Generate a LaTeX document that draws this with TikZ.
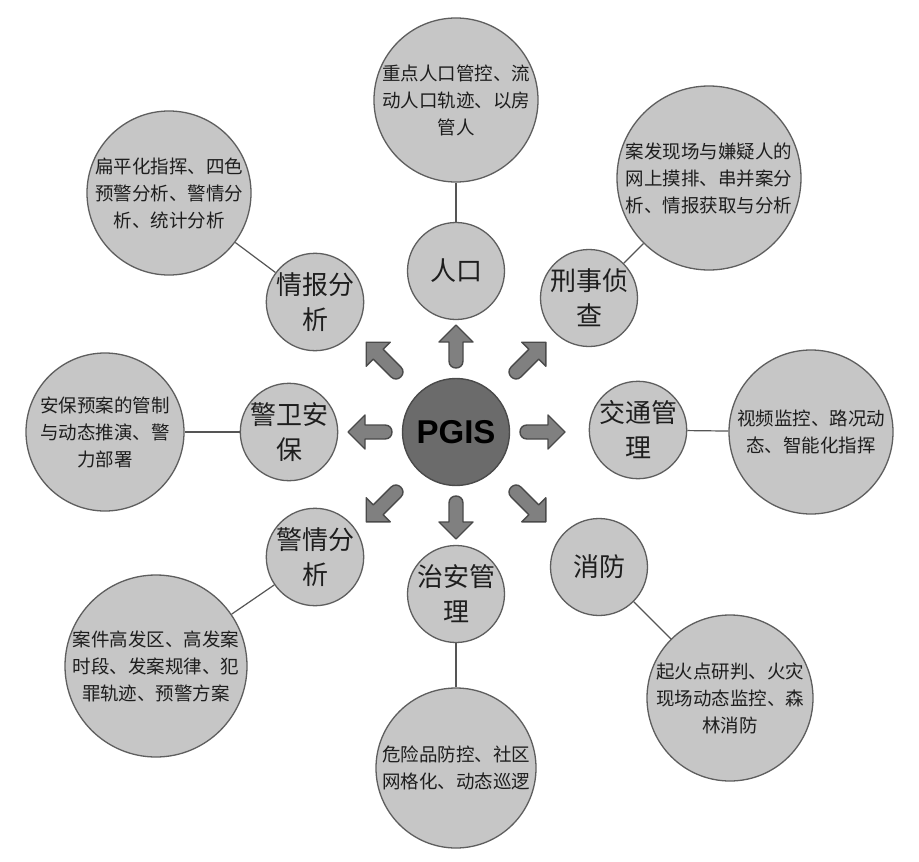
\documentclass[tikz,border=0pt]{standalone}
\usepackage{fontspec}
\setmainfont{Liberation Sans}
\newfontfamily\cjk{Noto Sans CJK SC}
\usetikzlibrary{calc}
\definecolor{cfill}{HTML}{C6C6C6}
\definecolor{cborder}{HTML}{5E5E5E}
\definecolor{pfill}{HTML}{6B6B6B}
\definecolor{afill}{HTML}{808080}
\definecolor{aborder}{HTML}{4A4A4A}
\definecolor{tcol}{HTML}{1E1E1E}
\definecolor{lcol}{HTML}{555555}
\tikzset{
  inner/.style={circle, fill=cfill, draw=cborder, line width=1.3pt, minimum size=97pt, inner sep=0pt, align=center, text=tcol, font=\cjk\fontsize{26}{35}\selectfont},
  outer/.style={circle, fill=cfill, draw=cborder, line width=1.3pt, minimum size=#1, inner sep=0pt, align=center, text=tcol, font=\cjk\fontsize{18.5}{27}\selectfont},
  link/.style={draw=lcol, line width=1.2pt},
  arrowsty/.style={fill=afill, draw=aborder, line width=1.4pt, line join=round},
  pics/barrow/.style={code={
    \draw[arrowsty] (0,7) -- ({#1-17},7) -- ({#1-17},17) -- (#1,0) -- ({#1-17},-17) -- ({#1-17},-7) -- (0,-7) .. controls (-9.3,-7) and (-9.3,7) .. (0,7) -- cycle;
  }}
}
\begin{document}
\begin{tikzpicture}[x=1pt,y=-1pt]
\useasboundingbox (0,0) rectangle (919,862);
\fill[white] (0,0) rectangle (919,862);

% outer circles
\node[outer=164pt] (orenkou) at (456,100) {重点人口管控、流\\动人口轨迹、以房\\管人};
\node[outer=184pt] (oxingshi) at (709,178) {案发现场与嫌疑人的\\网上摸排、串并案分\\析、情报获取与分析};
\node[outer=162pt] (oqingbao) at (169,193) {扁平化指挥、四色\\预警分析、警情分\\析、统计分析};
\node[outer=158pt] (ojingwei) at (105,432) {安保预案的管制\\与动态推演、警\\力部署};
\node[outer=164pt] (ojiaotong) at (811,432) {视频监控、路况动\\态、智能化指挥};
\node[outer=182pt] (ojingqing) at (156,666) {案件高发区、高发案\\时段、发案规律、犯\\罪轨迹、预警方案};
\node[outer=166pt] (oxiaofang) at (730,698) {起火点研判、火灾\\现场动态监控、森\\林消防};
\node[outer=160pt] (ozhian) at (456,768) {危险品防控、社区\\网格化、动态巡逻};

% inner circles
\node[inner] (renkou) at (456,271) {人口};
\node[inner] (xingshi) at (589,298) {刑事侦\\查};
\node[inner] (qingbao) at (315,302) {情报分\\析};
\node[inner] (jingwei) at (289,432) {警卫安\\保};
\node[inner] (jiaotong) at (638,430) {交通管\\理};
\node[inner] (jingqing) at (315,557) {警情分\\析};
\node[inner] (zhian) at (456,594) {治安管\\理};
\node[inner] (xiaofang) at (599,567) {消防};

% center
\node[circle, fill=pfill, draw=aborder, line width=1.4pt, minimum size=107pt, inner sep=0pt, font=\bfseries\fontsize{33}{38}\selectfont, text=black] (pgis) at (456,432) {PGIS};

% links
\draw[link] (renkou) -- (orenkou);
\draw[link] (xingshi) -- (oxingshi);
\draw[link] (qingbao) -- (oqingbao);
\draw[link] (jingwei) -- (ojingwei);
\draw[link] (jiaotong) -- (ojiaotong);
\draw[link] (jingqing) -- (ojingqing);
\draw[link] (xiaofang) -- (oxiaofang);
\draw[link] (zhian) -- (ozhian);

% arrows
\pic[rotate=90] at ($(pgis)+(90:71pt)$) {barrow=36};
\pic[rotate=270] at ($(pgis)+(270:71pt)$) {barrow=36};
\pic[rotate=0] at ($(pgis)+(0:71pt)$) {barrow=38};
\pic[rotate=180] at ($(pgis)+(180:71pt)$) {barrow=37};
\pic[rotate=45] at ($(pgis)+(45:85pt)$) {barrow=42};
\pic[rotate=135] at ($(pgis)+(135:85pt)$) {barrow=42};
\pic[rotate=225] at ($(pgis)+(225:85pt)$) {barrow=42};
\pic[rotate=315] at ($(pgis)+(315:85pt)$) {barrow=42};
\end{tikzpicture}
\end{document}
